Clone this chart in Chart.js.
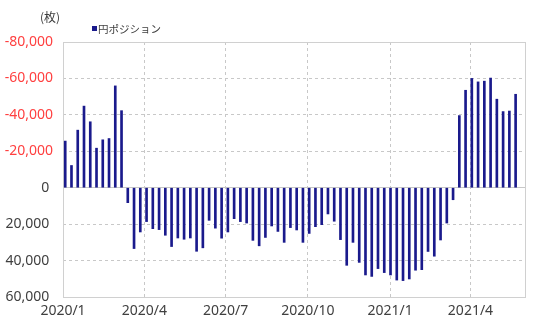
<!DOCTYPE html>
<html>
<head>
<meta charset="utf-8">
<script src="https://cdn.jsdelivr.net/npm/chart.js@4.4.1/dist/chart.umd.min.js"></script>
<style>
    body { margin: 0; background: #fff; }
    #wrap { position: relative; width: 540px; height: 336px; }
    .unit { position: absolute; left: 40px; top: 10px; font: 12px 'Noto Sans CJK JP', sans-serif; line-height: 14px; color: #404040; }
    .legend { position: absolute; left: 92px; top: 22px; font: 10.5px 'Noto Sans CJK JP', sans-serif; line-height: 14px; color: #404040; }
    .legend i { display: inline-block; width: 5px; height: 5px; background: #1a1a8c; margin-right: 1px; vertical-align: 2px; }
</style>
</head>
<body>
<div id="wrap">
    <canvas id="posChart"></canvas>
    <div class="unit">(枚)</div>
    <div class="legend"><i></i>円ポジション</div>
</div>
<script>
// 週次データ (2020/1/3 から毎週)
const firstWeek = '2020-01-03';
const yenPosition = [
    -25600, -12200, -31600, -44800, -36200, -21700, -26300, -27000, -55900, -42300,
    8200, 33400, 24300, 18600, 22500, 23000, 26100, 32300, 27600, 28300,
    27600, 34900, 33000, 17900, 22200, 27700, 24300, 17000, 18600, 19400,
    28900, 31900, 27300, 21000, 24000, 30000, 21900, 23200, 30000, 25100,
    21400, 20300, 14400, 18400, 28500, 42600, 30000, 41000, 47900, 48700,
    44400, 46600, 47900, 50700, 51000, 50100, 45300, 45000, 35000, 37600,
    28700, 19400, 6600, -39600, -53500, -60000, -58100, -58500, -60200, -48600,
    -41800, -42100, -51300
];

// 軸
const axisStart = '2020-01-01';
const axisEnd = '2021-06-01';
const xTickDates = ['2020-01-01', '2020-04-01', '2020-07-01', '2020-10-01', '2021-01-01', '2021-04-01'];
const xTickLabels = ['2020/1', '2020/4', '2020/7', '2020/10', '2021/1', '2021/4'];
const yMin = -80000;
const yMax = 60000;
const yStep = 20000;

const dayOf = s => (Date.parse(s) - Date.parse(axisStart)) / 86400000;
const firstDay = dayOf(firstWeek);
const points = yenPosition.map((v, i) => ({ x: firstDay + i * 7 + 0.5, y: v }));

const FONT = "'Noto Sans', 'Noto Sans CJK JP', sans-serif";
const GRID = '#c8c8c8';

// 枠線
const framePlugin = {
    id: 'frame',
    beforeDatasetsDraw(chart) {
        const { ctx, chartArea: a } = chart;
        ctx.save();
        ctx.strokeStyle = '#d0d0d0';
        ctx.lineWidth = 1;
        ctx.strokeRect(Math.round(a.left) + 0.5, Math.round(a.top) + 0.5,
            Math.round(a.right - a.left), Math.round(a.bottom - a.top));
        ctx.restore();
    }
};

const ctx = document.getElementById('posChart').getContext('2d');
new Chart(ctx, {
    type: 'bar',
    data: {
        datasets: [{
            label: '円ポジション',
            data: points,
            backgroundColor: '#1a1a8c',
            borderWidth: 0,
            barThickness: 2
        }]
    },
    options: {
        responsive: true,
        maintainAspectRatio: false,
        animation: false,
        layout: { padding: { top: 42, right: 15, bottom: 0, left: 0 } },
        plugins: { legend: { display: false }, tooltip: { enabled: false } },
        scales: {
            x: {
                type: 'linear',
                offset: false,
                min: 0,
                max: dayOf(axisEnd),
                afterBuildTicks: scale => { scale.ticks = xTickDates.map(d => ({ value: dayOf(d) })); },
                afterFit: scale => { scale.height = 39; },
                grid: { color: GRID, drawTicks: false, offset: false },
                border: { display: false, dash: [3, 3] },
                ticks: {
                    autoSkip: false,
                    maxRotation: 0,
                    padding: 6,
                    color: '#404040',
                    font: { family: FONT, size: 14 },
                    callback: (v, i) => xTickLabels[i]
                }
            },
            y: {
                min: yMin,
                max: yMax,
                reverse: true,
                afterFit: scale => { scale.width = 63; },
                grid: { color: GRID, drawTicks: false },
                border: { display: false, dash: c => (c.tick && c.tick.value === 0) ? [] : [3, 3] },
                ticks: {
                    stepSize: yStep,
                    padding: 10,
                    font: { family: FONT, size: 14 },
                    color: c => c.tick.value < 0 ? '#ff4040' : '#404040',
                    callback: v => v < 0 ? v.toLocaleString('en-US') : v.toLocaleString('en-US') + ' '
                }
            }
        }
    },
    plugins: [framePlugin]
});
</script>
</body>
</html>
